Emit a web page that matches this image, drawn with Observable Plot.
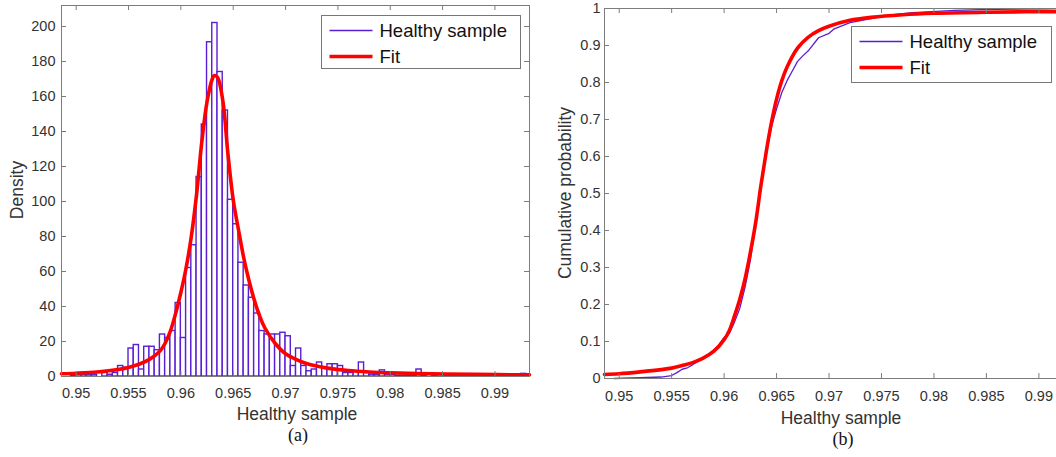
<!DOCTYPE html>
<html><head><meta charset="utf-8">
<script src="https://cdn.jsdelivr.net/npm/d3@7"></script>
<script src="https://cdn.jsdelivr.net/npm/@observablehq/plot@0.6"></script>
<style>
html,body{margin:0;padding:0;background:#fff;}
#root{position:relative;width:1056px;height:457px;overflow:hidden;background:#fff;}
#root > svg{position:absolute;top:0;}
</style></head><body><div id="root"></div>
<script>
// ---------- data ----------
const binEdges = [
0.9495,0.9500,0.9505,0.9510,0.9515,0.9520,0.9525,0.9530,0.9535,0.9540,
0.9545,0.9550,0.9555,0.9560,0.9565,0.9570,0.9575,0.9580,0.9585,0.9590,
0.9595,0.9600,0.9605,0.9610,0.9615,0.9620,0.9625,0.9630,0.9635,0.9640,
0.9645,0.9650,0.9655,0.9660,0.9665,0.9670,0.9675,0.9680,0.9685,0.9690,
0.9695,0.9700,0.9705,0.9710,0.9715,0.9720,0.9725,0.9730,0.9735,0.9740,
0.9745,0.9750,0.9755,0.9760,0.9765,0.9770,0.9775,0.9780,0.9785,0.9790,
0.9795,0.9800,0.9805,0.9810,0.9815,0.9820,0.9825,0.9830,0.9835,0.9840,
0.9845,0.9850,0.9855,0.9860,0.9865,0.9870,0.9875,0.9880,0.9885,0.9890,
0.9895,0.9900,0.9905,0.9910,0.9915,0.9920,0.9925,0.9930];
const densities = [
0.5,1,1,1,1,0,2,1,2,6,
5,16,18,4,17,17,15,24,22,26,
42,22,62,75,114,144,191,202,174,152,
101,87,65,52,45,36,26,24,24,24,
25,23,6,16,6,3,4,8,5,7,
7,6,2,2,3,8,2,1,1,3.5,
1,1,0.5,0.5,0.5,0.5,4,0.5,0,0.5,
0,0,0.5,0,0,1,0,0,0,0,
0,0,0,0,0,0,1.5];

const fitX = [0.9486,0.950,0.952,0.954,0.955,0.956,0.957,0.958,0.9585,0.959,0.9595,0.960,0.9605,0.961,0.9615,0.962,0.9625,0.963,0.9632,0.9635,0.964,0.9645,0.965,0.9655,0.966,0.9665,0.967,0.9675,0.968,0.969,0.970,0.971,0.972,0.974,0.976,0.978,0.980,0.984,0.988,0.9933];
const fitDensity = [1.6,1.9,2.6,4.0,5.2,7.0,9.8,14.5,19,26,36,48,62,80,104,134,157,170,172,171,158,127,101,84,68,55,44,35,28,19,13,9.8,7.4,4.8,3.4,2.6,2.1,1.5,1.2,0.95];

const cdfFitX = [0.9486,0.950,0.952,0.954,0.955,0.956,0.957,0.958,0.959,0.960,0.9605,0.961,0.9615,0.962,0.9625,0.963,0.9635,0.964,0.9645,0.965,0.9655,0.966,0.967,0.968,0.969,0.970,0.972,0.974,0.977,0.980,0.985,0.9933];
const cdfFit = [0.011,0.013,0.018,0.024,0.028,0.035,0.043,0.055,0.073,0.105,0.13,0.17,0.215,0.27,0.34,0.42,0.52,0.61,0.69,0.755,0.805,0.842,0.893,0.922,0.94,0.952,0.968,0.976,0.983,0.987,0.990,0.992];

const ecdfX = [0.9495,0.952,0.954,0.955,0.9555,0.956,0.9565,0.957,0.9575,0.958,0.9585,0.959,0.9595,0.960,0.9605,0.961,0.9615,0.962,0.9625,0.963,0.9635,0.964,0.9645,0.965,0.9655,0.966,0.9665,0.967,0.9675,0.968,0.969,0.970,0.9705,0.972,0.974,0.976,0.978,0.982,0.986,0.9905,0.993];
const ecdfY = [0,0.002,0.004,0.008,0.016,0.025,0.029,0.037,0.046,0.053,0.065,0.077,0.090,0.111,0.122,0.153,0.19,0.247,0.319,0.415,0.516,0.603,0.679,0.729,0.773,0.805,0.831,0.857,0.872,0.885,0.921,0.933,0.945,0.962,0.973,0.983,0.989,0.995,0.998,0.999,1.0];

const xTicks = [0.95,0.955,0.96,0.965,0.97,0.975,0.98,0.985,0.99];
const xTickLabels = ["0.95","0.955","0.96","0.965","0.97","0.975","0.98","0.985","0.99"];
const densityTicks = [0,20,40,60,80,100,120,140,160,180,200];
const densityTickLabels = ["0","20","40","60","80","100","120","140","160","180","200"];
const probTicks = [0,0.1,0.2,0.3,0.4,0.5,0.6,0.7,0.8,0.9,1];
const probTickLabels = ["0","0.1","0.2","0.3","0.4","0.5","0.6","0.7","0.8","0.9","1"];
const seriesNames = ["Healthy sample","Fit"];
const xLabel = "Healthy sample";
const yLabelA = "Density";
const yLabelB = "Cumulative probability";
const captions = ["(a)","(b)"];

// ---------- derived tables ----------
const bars = densities.map((d,i)=>({x1: binEdges[i], x2: binEdges[i+1], density: d}));
const fitRows = fitX.map((x,i)=>({x, y: fitDensity[i]}));
const cdfFitRows = cdfFitX.map((x,i)=>({x, y: cdfFit[i]}));
const ecdfRows = ecdfX.map((x,i)=>({x, y: ecdfY[i]}));
const xLab = new Map(xTicks.map((t,i)=>[t,xTickLabels[i]]));
const dLab = new Map(densityTicks.map((t,i)=>[t,densityTickLabels[i]]));
const pLab = new Map(probTicks.map((t,i)=>[t,probTickLabels[i]]));

const purple = "#5a1fd4", red = "#ff0000", axisGray = "#7d7d7d", tickText = "#333";
const font = "'Liberation Sans', Arial, Helvetica, sans-serif";
const xDomain = [0.9486, 0.9933];

function inwardTicks(innerW, innerH, yTicks){
  const t = 5;
  return [
    Plot.ruleX(xTicks, {stroke: axisGray, insetTop: innerH - t}),
    Plot.ruleX(xTicks, {stroke: axisGray, insetBottom: innerH - t}),
    Plot.ruleY(yTicks, {stroke: axisGray, insetRight: innerW - t}),
    Plot.ruleY(yTicks, {stroke: axisGray, insetLeft: innerW - t})
  ];
}

const root = document.getElementById("root");

// Panel (a)
const A = {w: 545, h: 457, ml: 61, mr: 16, mt: 5, mb: 81};
const plotA = Plot.plot({
  width: A.w, height: A.h,
  marginLeft: A.ml, marginRight: A.mr, marginTop: A.mt, marginBottom: A.mb,
  style: {fontFamily: font, fontSize: "14.5px", color: tickText, background: "transparent", overflow: "visible"},
  x: {domain: xDomain, ticks: xTicks, tickFormat: d => xLab.get(d), tickSize: 0, tickPadding: 11, label: null},
  y: {domain: [0, 212], ticks: densityTicks, tickFormat: d => dLab.get(d), tickSize: 0, tickPadding: 6, label: null},
  marks: [
    Plot.rect(bars, {x1: "x1", x2: "x2", y1: 0, y2: "density", fill: "white", stroke: purple, strokeWidth: 1.4}),
    Plot.line(fitRows, {x: "x", y: "y", stroke: red, strokeWidth: 3.6, curve: "catmull-rom"}),
    ...inwardTicks(A.w - A.ml - A.mr, A.h - A.mt - A.mb, densityTicks),
    Plot.frame({stroke: axisGray})
  ]
});
plotA.style.left = "0px";
root.appendChild(plotA);

// Panel (b)
const B = {left: 545, w: 544, h: 457, ml: 59, mr: 16, mt: 8, mb: 79};
const plotB = Plot.plot({
  width: B.w, height: B.h,
  marginLeft: B.ml, marginRight: B.mr, marginTop: B.mt, marginBottom: B.mb,
  style: {fontFamily: font, fontSize: "14.5px", color: tickText, background: "transparent", overflow: "visible"},
  x: {domain: xDomain, ticks: xTicks, tickFormat: d => xLab.get(d), tickSize: 0, tickPadding: 12, label: null},
  y: {domain: [0, 1], ticks: probTicks, tickFormat: d => pLab.get(d), tickSize: 0, tickPadding: 4, label: null},
  marks: [
    Plot.line(ecdfRows, {x: "x", y: "y", stroke: purple, strokeWidth: 1.3}),
    Plot.line(cdfFitRows, {x: "x", y: "y", stroke: red, strokeWidth: 3.6, curve: "catmull-rom"}),
    ...inwardTicks(B.w - B.ml - B.mr, B.h - B.mt - B.mb, probTicks),
    Plot.frame({stroke: axisGray})
  ]
});
plotB.style.left = B.left + "px";
root.appendChild(plotB);

// Overlay: axis titles, captions, legends
const ov = d3.select(root).append("svg")
  .attr("width", 1056).attr("height", 457)
  .style("left", "0px").style("font-family", font);

function title(x, y, txt, rotate){
  const t = ov.append("text").attr("text-anchor", "middle").attr("font-size", 17.5).attr("fill", "#333").text(txt);
  if (rotate) t.attr("transform", `translate(${x},${y}) rotate(-90)`);
  else t.attr("x", x).attr("y", y);
}
title(297, 420, xLabel);
title(841, 424, xLabel);
title(23, 190, yLabelA, true);
title(571, 193, yLabelB, true);

ov.append("text").attr("x", 298).attr("y", 441).attr("text-anchor", "middle")
  .attr("font-family", "'Liberation Serif','Times New Roman',serif").attr("font-size", 18).attr("fill", "#111").text(captions[0]);
ov.append("text").attr("x", 843).attr("y", 445).attr("text-anchor", "middle")
  .attr("font-family", "'Liberation Serif','Times New Roman',serif").attr("font-size", 18).attr("fill", "#111").text(captions[1]);

function legend(x, y, w, h){
  const g = ov.append("g").attr("transform", `translate(${x},${y})`);
  g.append("rect").attr("width", w).attr("height", h).attr("fill", "white").attr("stroke", "#777").attr("stroke-width", 1);
  const rowY = [15, 41];
  const strokes = [[purple, 1.5], [red, 3.6]];
  seriesNames.forEach((name, i) => {
    g.append("line").attr("x1", 8).attr("x2", 51).attr("y1", rowY[i]).attr("y2", rowY[i])
      .attr("stroke", strokes[i][0]).attr("stroke-width", strokes[i][1]);
    g.append("text").attr("x", 58).attr("y", rowY[i] + 6.5).attr("font-size", 18.5).attr("fill", "#111").text(name);
  });
}
legend(321.5, 15.5, 199, 53);
legend(851.5, 26.5, 200, 56);
</script></body></html>
